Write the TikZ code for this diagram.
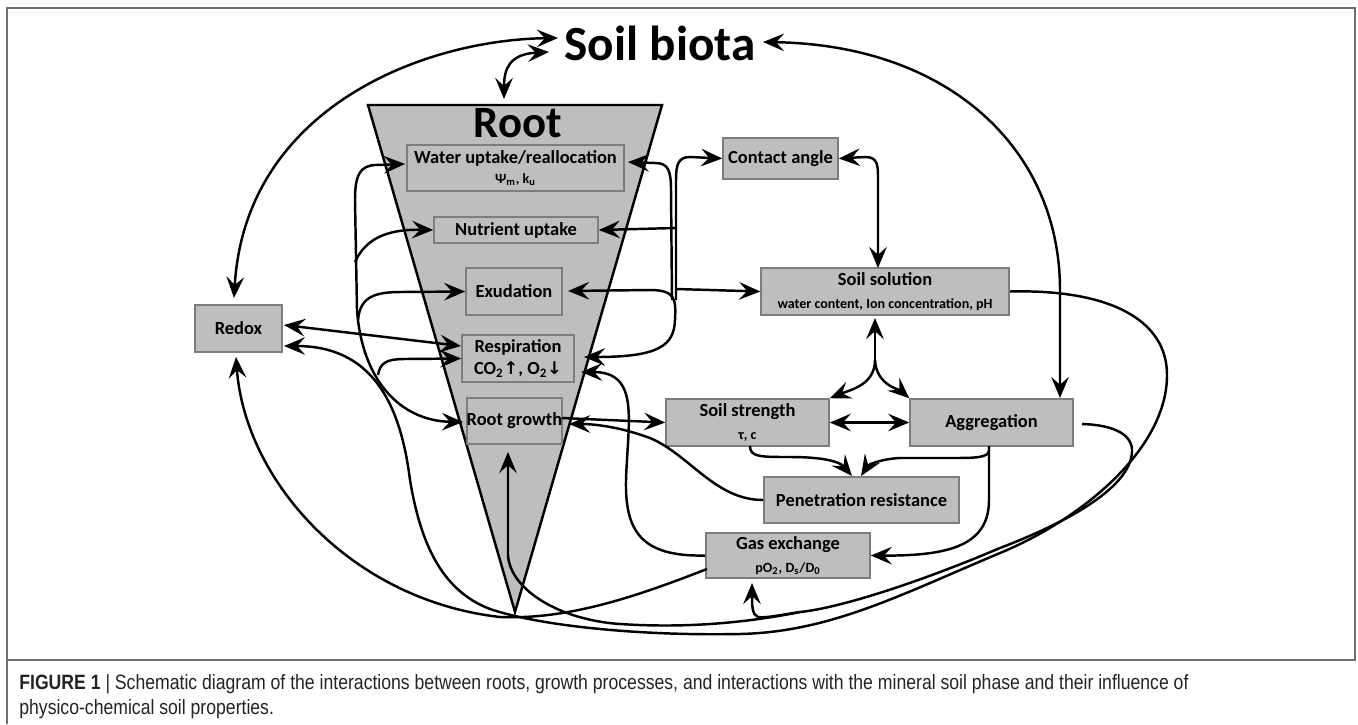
\documentclass[tikz,border=0pt]{standalone}
\usepackage{fontspec}
\setmainfont{Carlito}
\newfontfamily\capfont[FakeStretch=0.85]{Liberation Sans}
\newfontfamily\symfont{DejaVu Sans}
\usetikzlibrary{arrows.meta}
\definecolor{boxfill}{RGB}{190,190,190}
\definecolor{boxedge}{RGB}{125,125,125}
\definecolor{framecol}{RGB}{110,110,110}
\definecolor{capcol}{RGB}{35,35,35}
\begin{document}
\begin{tikzpicture}[x=0.02cm,y=-0.02cm,
  box/.style={draw=boxedge,fill=boxfill,line width=0.9pt,inner sep=0pt,align=center,font=\bfseries\fontsize{10.5}{12.5}\selectfont},
  con/.style={line width=1.4pt,draw=black},
  arr/.style={-{Stealth[length=12pt,width=10pt,inset=4.5pt]}},
  arrboth/.style={{Stealth[length=12pt,width=10pt,inset=4.5pt]}-{Stealth[length=12pt,width=10pt,inset=4.5pt]}},
  arrstart/.style={{Stealth[length=12pt,width=10pt,inset=4.5pt]}-}
]
\useasboundingbox (0,0) rectangle (1358,724);
\draw[framecol,line width=1.2pt] (7,724) -- (7,8) -- (1355,8) -- (1355,660) -- (7,660);

% root triangle
\coordinate (tl) at (368,105); \coordinate (tr) at (662,105); \coordinate (apex) at (515,612);
\filldraw[fill=boxfill,draw=black,line width=1.4pt] (tl) -- (tr) -- (apex) -- cycle;
\node[font=\bfseries\fontsize{25.5}{28}\selectfont,anchor=base,inner sep=0pt] (root) at (518,137) {Root};
\node[font=\bfseries\fontsize{28}{30}\selectfont,anchor=base,inner sep=0pt] (biota) at (660,60) {Soil biota};

\newcommand{\sm}{\fontsize{8}{9}\selectfont}
% boxes
\node[box,minimum width=4.34cm,minimum height=0.92cm] (water) at (515.5,168) {Water uptake/reallocation\\[-1pt]{\sm Ψ\textsubscript{m}, k\textsubscript{u}}};
\node[box,minimum width=3.28cm,minimum height=0.52cm] (nutr) at (516,230) {Nutrient uptake};
\node[box,minimum width=1.92cm,minimum height=0.94cm] (exud) at (514,291.5) {Exudation};
\node[box,minimum width=2.24cm,minimum height=0.94cm] (resp) at (518,358.5) {Respiration\\CO\textsubscript{2}{\symfont\bfseries\fontsize{10}{12}\selectfont↑}, O\textsubscript{2}{\symfont\bfseries\fontsize{10}{12}\selectfont↓}};
\node[box,minimum width=1.9cm,minimum height=0.92cm] (rootg) at (514.5,421) {Root growth};
\node[box,minimum width=2.3cm,minimum height=0.82cm] (contact) at (780.5,158.5) {Contact angle};
\node[box,minimum width=4.96cm,minimum height=0.94cm] (soilsol) at (885,291.5) {Soil solution\\[1pt]{\sm water content, Ion concentration, pH}};
\node[box,minimum width=1.74cm,minimum height=0.94cm] (redox) at (238.5,328.5) {Redox};
\node[box,minimum width=3.26cm,minimum height=0.94cm] (strength) at (747.5,422.5) {Soil strength\\[1pt]{\sm τ, c}};
\node[box,minimum width=3.26cm,minimum height=0.94cm] (aggr) at (991.5,422.5) {Aggregation};
\node[box,minimum width=3.9cm,minimum height=0.92cm] (pen) at (861.5,500) {Penetration resistance};
\node[box,minimum width=3.28cm,minimum height=0.9cm] (gas) at (788,555.5) {Gas exchange\\[1pt]{\sm pO\textsubscript{2}, D\textsubscript{s}/D\textsubscript{0}}};

% soil biota links
\draw[con,arrboth] (558,38) .. controls (420,40) and (245,110) .. (234,298);
\draw[con,arrboth] (549,52) .. controls (510,54) and (504,68) .. (504,99);
\draw[con,arrboth] (763,42) .. controls (950,45) and (1060,150) .. (1060,290) -- (1060,398);

% redox <-> respiration
\draw[con,arrboth] (284,325) -- (461,346);
% soil solution -> redox (long loop)
\draw[con,arrstart] (284,346) .. controls (370,346) and (400,400) .. (410,480) .. controls (420,540) and (440,590) .. (490,609) .. controls (540,626) and (640,636) .. (740,634) .. controls (830,632) and (900,595) .. (1000,553) .. controls (1080,520) and (1167,450) .. (1167,375) .. controls (1167,320) and (1110,289) .. (soilsol.east);
% gas exchange -> redox
\draw[con,arrstart] (236,357) .. controls (245,480) and (350,600) .. (500,617) .. controls (570,620) and (640,595) .. (707,569);

% left bus
\draw[con,arrboth] (405,164) -- (375,165) .. controls (360,166) and (355,175) .. (355,200) -- (357,310) .. controls (362,380) and (400,421) .. (463,422);
\draw[con,arr] (355,262) .. controls (365,240) and (385,229) .. (nutr.west);
\draw[con,arr] (358,320) .. controls (360,300) and (370,292) .. (400,292) -- (exud.west);
\draw[con,arr] (378,375) .. controls (380,362) and (388,359) .. (405,359) -- (resp.west);

% right bus
\draw[con,arrstart] (628,162) -- (655,163) .. controls (668,163) and (671,170) .. (671,190) -- (672,300);
\draw[con,arr] (676,300) -- (676,180) .. controls (676,165) and (678,157) .. (690,157) -- (contact.west);
\draw[con,arr] (676,228) -- (nutr.east);
\draw[con,arr] (676,289) -- (soilsol.west);
\draw[con,arrboth] (568,291) -- (650,290) .. controls (676,290) and (676,300) .. (675,320) .. controls (674,345) and (660,357) .. (584,357);

% gas exchange -> respiration
\draw[con,arr] (gas.west) .. controls (640,557) and (625,530) .. (626,480) .. controls (628,420) and (640,372) .. (581,372);
% penetration -> root growth
\draw[con,arr] (pen.west) .. controls (715,500) and (690,455) .. (650,438) .. controls (620,427) and (595,424) .. (569,424);
% root growth -> soil strength
\draw[con,arr] (562,418) -- (strength.west);
\draw[con,arrboth] (strength.east) -- (aggr.west);
% contact angle <-> soil solution
\coordinate (ssn) at (878,268);
\draw[con,arrboth] (contact.east) -- (865,157) .. controls (878,157) and (878,165) .. (878,180) -- (ssn);
% soil solution <-> strength, aggregation
\coordinate (split) at (875,360);
\draw[con,arrstart] (875,318) -- (split);
\draw[con,arr] (split) .. controls (875,385) and (850,390) .. (strength.north east);
\draw[con,arr] (split) .. controls (876,385) and (900,390) .. (aggr.north west);
% strength, aggregation -> penetration
\draw[con,arr] (750,446) .. controls (750,457) and (760,457) .. (790,457) .. controls (825,457) and (840,462) .. (852,476);
\draw[con,arr] (989,446) -- (989,450) .. controls (989,458) and (975,458) .. (950,458) -- (900,458) .. controls (880,459) and (868,465) .. (861,476);
% aggregation -> gas exchange
\draw[con,arr] (989,450) -- (989,500) .. controls (989,545) and (950,556) .. (gas.east);
% aggregation -> gas exchange (from below) and root growth
\coordinate (join) at (800,612);
\draw[con,arr] (1082,424) .. controls (1115,425) and (1133,435) .. (1132,452) .. controls (1130,490) and (1060,525) .. (1000,548) .. controls (920,582) and (840,608) .. (join) .. controls (775,616) and (765,618) .. (758,617) .. controls (752,615) and (752,605) .. (752,583);
\draw[con,arr] (join) .. controls (740,624) and (680,628) .. (620,624) .. controls (560,620) and (510,590) .. (508,555) -- (508,452);

% caption
\node[anchor=base west,inner sep=0pt,text=capcol,font=\capfont\fontsize{11.8}{14}\selectfont] (cap1) at (19,689) {\textbf{FIGURE 1} | Schematic diagram of the interactions between roots, growth processes, and interactions with the mineral soil phase and their influence of};
\node[anchor=base west,inner sep=0pt,text=capcol,font=\capfont\fontsize{11.8}{14}\selectfont] (cap2) at (19,714) {physico-chemical soil properties.};
\end{tikzpicture}
\end{document}
